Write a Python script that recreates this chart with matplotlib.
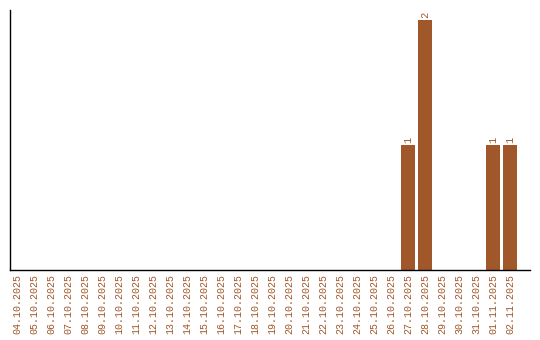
import matplotlib
matplotlib.use("Agg")
import matplotlib.pyplot as plt

dates = [
    "04.10.2025", "05.10.2025", "06.10.2025", "07.10.2025", "08.10.2025",
    "09.10.2025", "10.10.2025", "11.10.2025", "12.10.2025", "13.10.2025",
    "14.10.2025", "15.10.2025", "16.10.2025", "17.10.2025", "18.10.2025",
    "19.10.2025", "20.10.2025", "21.10.2025", "22.10.2025", "23.10.2025",
    "24.10.2025", "25.10.2025", "26.10.2025", "27.10.2025", "28.10.2025",
    "29.10.2025", "30.10.2025", "31.10.2025", "01.11.2025", "02.11.2025",
]
counts = [0] * 23 + [1, 2, 0, 0, 0, 1, 1]

COLOR = "#a0572a"

fig = plt.figure(figsize=(5.4, 3.4), dpi=100)
ax = fig.add_axes([10 / 540, 70 / 340, 520 / 540, 260 / 340])

x = list(range(len(dates)))
ax.bar(x, counts, width=0.82, color=COLOR)
for xi, c in zip(x, counts):
    if c:
        ax.text(xi, c + 0.02, str(c), rotation=90, ha="center", va="bottom",
                color=COLOR, family="Liberation Mono", fontsize=7.5)

ax.set_xlim(-0.41, 30.18)
ax.set_ylim(0, 2.08)
ax.set_xticks(x)
ax.set_xticklabels(dates, rotation=90, family="Liberation Mono", fontsize=7.2, color=COLOR)
ax.tick_params(axis="x", length=0, pad=3)
ax.set_yticks([])
for side in ("top", "right"):
    ax.spines[side].set_visible(False)
for side in ("left", "bottom"):
    ax.spines[side].set_linewidth(1.0)

fig.savefig("out.png", dpi=100)
